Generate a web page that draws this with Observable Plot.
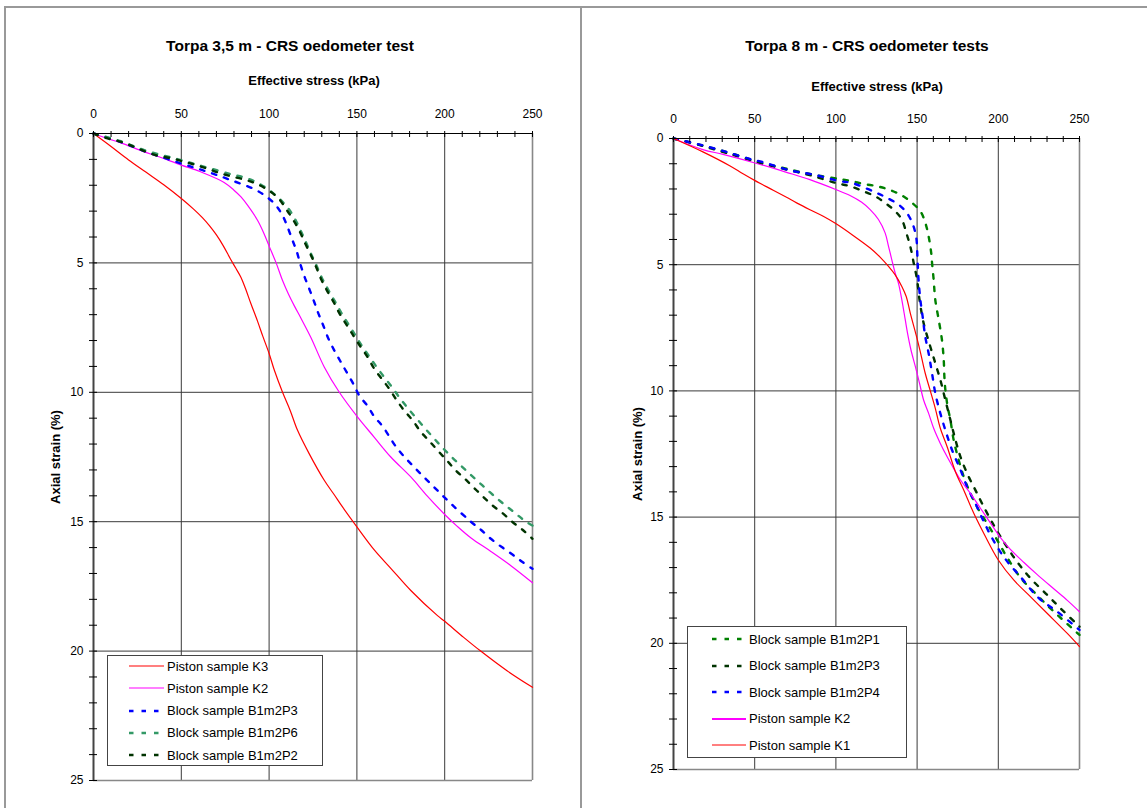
<!DOCTYPE html>
<html><head><meta charset="utf-8">
<script src="https://cdn.jsdelivr.net/npm/d3@7"></script>
<script src="https://cdn.jsdelivr.net/npm/@observablehq/plot@0.6"></script>
<style>
html,body{margin:0;padding:0;background:#fff;}
#page{position:relative;width:1147px;height:808px;overflow:hidden;background:#fff;font-family:"Liberation Sans",Arial,sans-serif;color:#000;}
.abs{position:absolute;}
.abs svg text{font-size:12px;}
.title{position:absolute;font-weight:bold;font-size:15.5px;line-height:15.5px;text-align:center;white-space:nowrap;}
.axt{position:absolute;font-weight:bold;font-size:13px;line-height:13px;text-align:center;white-space:nowrap;}
.ylab{position:absolute;font-weight:bold;font-size:13px;line-height:13px;white-space:nowrap;transform:translate(-50%,-50%) rotate(-90deg);}
.legend{position:absolute;background:#fff;border:1px solid #444;box-sizing:border-box;z-index:5;}
.legend .sw{position:absolute;}
.legend .tx{position:absolute;font-size:13px;line-height:13px;white-space:nowrap;}
.panel{position:absolute;border-color:#999;border-style:solid;}
</style></head><body><div id="page">
<div class="panel" style="left:4px;top:6px;width:574px;height:900px;border-width:2px 2px 0 2px;"></div>
<div class="panel" style="left:582px;top:6px;width:700px;height:900px;border-width:2px 0 0 0;"></div>
<div id="left" class="abs" style="left:0;top:0;width:580px;height:808px;"></div>
<div id="right" class="abs" style="left:580px;top:0;width:567px;height:808px;"></div>
<div class="title" style="left:90px;top:37.5px;width:400px;">Torpa 3,5 m - CRS oedometer test</div>
<div class="title" style="left:667px;top:37.5px;width:400px;">Torpa 8 m - CRS oedometer tests</div>
<div class="axt" style="left:214px;top:74px;width:200px;">Effective stress (kPa)</div>
<div class="axt" style="left:777px;top:79.5px;width:200px;">Effective stress (kPa)</div>
<div class="ylab" style="left:55px;top:456.5px;">Axial strain (%)</div>
<div class="ylab" style="left:637px;top:453.5px;">Axial strain (%)</div>
<div id="legL" class="legend" style="left:107px;top:655px;width:216px;height:111px;"></div>
<div id="legR" class="legend" style="left:687px;top:626px;width:220px;height:132px;"></div>
</div>
<script>
// ---------- axis ticks ----------
const stressTicks = [0, 50, 100, 150, 200, 250];
const strainTicks = [0, 5, 10, 15, 20, 25];
const stressGrid = [50, 100, 150, 200];
const strainGrid = [5, 10, 15, 20];
const stressMinor = d3.range(0, 251, 10);
const strainMinor = d3.range(0, 26, 1);

// ---------- Torpa 3,5 m : [effective stress kPa, axial strain %] ----------
const leftK3 = [[0,0],[10,0.5],[20,1.02],[30,1.5],[40,1.98],[50,2.51],[57,2.92],[62,3.25],[66,3.56],[70,3.92],[74,4.35],[78,4.85],[81,5.2],[84,5.56],[86.5,5.98],[89.5,6.55],[93.4,7.25],[96.5,7.85],[100,8.5],[103,9.15],[107.6,9.99],[112,10.7],[116.2,11.47],[122.8,12.37],[131.4,13.4],[137,13.95],[142,14.45],[150,15.2],[160,16.1],[169.3,16.8],[180.7,17.66],[195.9,18.63],[200,18.85],[210.8,19.47],[220.3,19.99],[235.5,20.76],[250,21.4]];
const leftK2 = [[0,0],[8,0.2],[15.6,0.36],[28.9,0.71],[36.4,0.88],[50,1.22],[61,1.48],[74.4,1.89],[80,2.19],[84,2.45],[87.7,2.77],[93.4,3.35],[97,3.85],[100.2,4.38],[104,5.0],[107.6,5.67],[111,6.2],[114.3,6.65],[118,7.12],[123.8,7.88],[131.4,9.02],[139.9,9.99],[150.3,10.95],[159.8,11.73],[169.3,12.5],[180.7,13.27],[190,14.0],[200,14.72],[207,15.17],[215,15.63],[226.3,16.15],[237.7,16.7],[250,17.36]];
const leftP3 = [[0,0],[15.2,0.32],[28.9,0.68],[50,1.16],[64.9,1.48],[78.2,1.8],[91.5,2.15],[98.1,2.42],[103.8,2.77],[107.6,3.16],[110.5,3.61],[113.3,4.12],[115.8,4.57],[117.7,5.03],[120,5.5],[122.8,5.99],[125.7,6.51],[128.1,6.96],[130.8,7.41],[133.8,7.93],[137.1,8.38],[140.5,8.79],[144.3,9.24],[148.4,9.73],[151.3,10.12],[156.2,10.54],[159.8,10.93],[164.6,11.31],[173.1,12.18],[182.6,12.89],[193,13.6],[203.5,14.3],[214.9,15.0],[220.6,15.31],[226.3,15.66],[232.5,15.98],[238.6,16.27],[244.3,16.56],[250,16.82]];
const leftP6 = [[0,0],[15.6,0.3],[28.9,0.64],[50,1.03],[64.5,1.31],[78.2,1.57],[85.8,1.7],[92.4,1.87],[99.5,2.16],[105.4,2.49],[110.5,2.86],[114.3,3.25],[117.7,3.71],[120.9,4.19],[123.8,4.64],[127,5.1],[130,5.57],[133.6,6.03],[137.4,6.48],[140.8,6.89],[144.6,7.31],[148.8,7.76],[152.6,8.18],[157,8.61],[161.2,9.02],[165.5,9.41],[169.9,9.79],[174.4,10.22],[179.2,10.63],[184.1,11.02],[188.9,11.4],[194,11.79],[199.3,12.18],[204.4,12.53],[210.1,12.89],[215.8,13.25],[221.5,13.6],[227.2,13.95],[233.3,14.3],[239.6,14.64],[245.3,14.95],[250,15.15]];
const leftP2 = [[0,0],[8,0.19],[15.6,0.32],[22.2,0.49],[28.9,0.68],[35.5,0.84],[43.1,0.94],[50,1.06],[57.3,1.2],[64.5,1.35],[71.6,1.52],[78.2,1.65],[85.8,1.78],[92.4,1.93],[99.5,2.19],[105.4,2.51],[109.5,2.9],[113.3,3.29],[117.1,3.74],[120.4,4.23],[123.5,4.66],[126.6,5.13],[129.5,5.61],[132.9,6.06],[136.7,6.51],[139.9,6.93],[143.7,7.35],[147.9,7.8],[151.9,8.22],[156,8.63],[159.8,9.08],[164,9.47],[168.4,9.86],[172.7,10.31],[176.9,10.7],[181.7,11.08],[186.4,11.53],[191.2,11.88],[195.9,12.24],[201.2,12.63],[206.3,13.02],[211.5,13.34],[216.8,13.7],[222.1,14.05],[227.2,14.37],[233.3,14.69],[238.6,15.01],[244.3,15.31],[250,15.66]];

// ---------- Torpa 8 m ----------
const rightP1 = [[0,0],[18.1,0.28],[34.6,0.57],[53.1,0.94],[69.6,1.2],[86.1,1.43],[101.5,1.6],[109.7,1.69],[116.9,1.8],[125.2,1.89],[132.4,2.02],[139.6,2.22],[145.8,2.49],[152,2.88],[155.1,3.35],[157.1,3.88],[158.7,4.54],[159.2,4.93],[160.2,5.6],[161.2,6.39],[163.3,7.18],[165.3,7.98],[166.4,8.77],[166.8,9.43],[167.4,9.96],[168.8,10.62],[170.5,11.15],[172.5,11.94],[175.6,12.74],[178.7,13.4],[182.8,14.06],[188,14.72],[193.1,15.25],[199.3,15.91],[205,16.55],[213.7,17.4],[224,18.1],[234.3,18.75],[250,19.67]];
const rightP3 = [[0,0],[17.1,0.28],[32.5,0.57],[53.1,0.97],[69.6,1.23],[86.1,1.49],[99.9,1.76],[108.7,1.89],[116.9,2.09],[124.2,2.29],[130.3,2.55],[136.5,2.88],[140.6,3.21],[143.7,3.81],[145.8,4.27],[147.9,4.93],[150,5.6],[151.5,6.39],[154,7.31],[158.1,8.24],[161.2,8.9],[164.3,9.56],[167.4,10.36],[170.5,11.15],[173.6,11.94],[176.7,12.61],[180.8,13.27],[185.9,13.93],[190,14.46],[197,15.3],[204,16.05],[211.7,16.78],[219.9,17.43],[230.2,18.09],[238.4,18.62],[250,19.34]];
const rightP4 = [[0,0],[16.1,0.24],[32.5,0.53],[46.9,0.81],[55.2,0.94],[71.6,1.26],[86.1,1.43],[102.5,1.69],[109.7,1.76],[118,1.96],[125.2,2.16],[131.4,2.35],[138.6,2.62],[143.7,2.95],[147.4,3.41],[149.5,3.94],[150.1,4.54],[150.4,5.0],[150.9,5.6],[152,6.39],[153.4,7.05],[155,7.84],[157.1,8.51],[159.2,9.3],[161.2,10.09],[164.3,10.89],[167.4,11.55],[171.5,12.34],[176.7,13.13],[180.8,13.8],[185.9,14.46],[190.5,15.1],[195.5,15.75],[203.4,16.58],[213.7,17.37],[225.1,18.22],[236.4,18.75],[250,19.47]];
const rightK2 = [[0,0],[18.1,0.44],[30.5,0.63],[50.2,0.97],[69.6,1.34],[84,1.63],[99.9,2.02],[108.7,2.26],[115.9,2.53],[121.1,2.82],[126.2,3.21],[130.3,3.74],[132.4,4.27],[134.4,4.8],[136.5,5.33],[138.5,5.73],[140.6,6.39],[142.7,7.18],[144.1,7.71],[146.2,8.37],[148.9,9.03],[151.5,9.7],[154,10.36],[157.1,10.89],[160.2,11.48],[164.3,12.08],[168.5,12.61],[172.5,13.07],[176.7,13.53],[182.8,14.06],[189,14.65],[195,15.22],[201,15.78],[207,16.25],[215.8,16.8],[224,17.28],[234.3,17.85],[242.5,18.3],[250,18.75]];
const rightK1 = [[0,0],[18.1,0.53],[34.6,1.08],[42.8,1.4],[50.2,1.67],[61.4,2.05],[69.6,2.33],[75.8,2.55],[84,2.82],[92.2,3.08],[99.9,3.37],[110.8,3.85],[121.1,4.34],[127.2,4.7],[132.4,5.07],[136.5,5.4],[140.6,5.86],[143.3,6.26],[145.8,6.92],[149.9,7.91],[152.4,8.57],[155,9.3],[158.1,9.99],[161.2,10.69],[164.3,11.48],[168.5,12.21],[173.6,13.2],[178.7,13.93],[182.5,14.5],[186,15.0],[191.5,15.7],[200,16.7],[209.6,17.5],[219.9,18.16],[230.2,18.82],[242.5,19.61],[250,20.13]];

// ---------- series styling ----------
const leftNames = ["Piston sample K3", "Piston sample K2", "Block sample B1m2P3", "Block sample B1m2P6", "Block sample B1m2P2"];
const leftColors = ["#ff0000", "#ff00ff", "#0000ff", "#339966", "#003300"];
const leftData = [leftK3, leftK2, leftP3, leftP6, leftP2];
const leftDashed = [false, false, true, true, true];

const rightNames = ["Block sample B1m2P1", "Block sample B1m2P3", "Block sample B1m2P4", "Piston sample K2", "Piston sample K1"];
const rightColors = ["#008000", "#003300", "#0000ff", "#ff00ff", "#ff0000"];
const rightData = [rightP1, rightP3, rightP4, rightK2, rightK1];
const rightDashed = [true, true, true, false, false];

const DASH = "4.5,8";

function lineMarks(data, colors, dashed) {
  return data.map((d, i) => Plot.line(d, {
    x: p => p[0], y: p => p[1],
    stroke: colors[i],
    strokeWidth: dashed[i] ? 2.4 : 1.2,
    strokeDasharray: dashed[i] ? DASH : null,
    curve: "catmull-rom"
  }));
}

function chart(opts, lines) {
  return Plot.plot({
    width: opts.w, height: opts.h,
    marginLeft: opts.ml, marginRight: opts.mr, marginTop: opts.mt, marginBottom: opts.mb,
    style: {background: "none", fontFamily: "Liberation Sans, Arial, sans-serif", fontSize: "12px", color: "#000", overflow: "visible"},
    x: {domain: [0, 250]},
    y: {domain: [0, 25], reverse: true},
    marks: [
      Plot.ruleX(stressGrid, {stroke: "#3a3a3a", strokeWidth: 1}),
      Plot.ruleY(strainGrid, {stroke: "#3a3a3a", strokeWidth: 1}),
      Plot.ruleX([250], {stroke: "#888", strokeWidth: 1.6}),
      Plot.ruleY([25], {stroke: "#888", strokeWidth: 1.6}),
      ...lines,
      Plot.ruleX([0], {stroke: "#444", strokeWidth: 2}),
      Plot.ruleY([0], {stroke: "#000", strokeWidth: 1}),
      Plot.axisX({anchor: "top", ticks: stressMinor, tickSize: 6, dy: 3, tickFormat: () => "", label: null}),
      Plot.axisY({anchor: "left", ticks: strainMinor, tickSize: 8, dx: 4, tickFormat: () => "", label: null}),
      Plot.axisX({anchor: "top", ticks: stressTicks, tickSize: 0, tickPadding: 15.5, label: null, fontSize: 12}),
      Plot.axisY({anchor: "left", ticks: strainTicks, tickSize: 0, tickPadding: 10, label: null, fontSize: 12})
    ]
  });
}

document.getElementById("left").append(chart({w: 580, h: 808, ml: 93, mr: 48, mt: 133, mb: 28}, lineMarks(leftData, leftColors, leftDashed)));
document.getElementById("right").append(chart({w: 567, h: 808, ml: 93, mr: 68, mt: 138, mb: 39}, lineMarks(rightData, rightColors, rightDashed)));

function legend(el, names, colors, dashed, cfg) {
  names.forEach((name, i) => {
    const cy = cfg.first + i * cfg.step;
    const sw = document.createElementNS("http://www.w3.org/2000/svg", "svg");
    sw.setAttribute("class", "sw");
    sw.setAttribute("width", cfg.swW);
    sw.setAttribute("height", 6);
    sw.style.left = cfg.swX + "px";
    sw.style.top = (cy - 3) + "px";
    const ln = document.createElementNS("http://www.w3.org/2000/svg", "line");
    ln.setAttribute("x1", 0); ln.setAttribute("x2", cfg.swW);
    ln.setAttribute("y1", 3); ln.setAttribute("y2", 3);
    ln.setAttribute("stroke", colors[i]);
    ln.setAttribute("stroke-width", dashed[i] ? 2.6 : (cfg.solidW ? cfg.solidW[i] : 1.2));
    if (dashed[i]) ln.setAttribute("stroke-dasharray", DASH);
    sw.appendChild(ln);
    el.appendChild(sw);
    const t = document.createElement("div");
    t.className = "tx";
    t.textContent = name;
    t.style.left = cfg.txX + "px";
    t.style.top = (cy - 6.5) + "px";
    el.appendChild(t);
  });
}
legend(document.getElementById("legL"), leftNames, leftColors, leftDashed, {first: 10, step: 22.3, swX: 21, swW: 35, txX: 59});
legend(document.getElementById("legR"), rightNames, rightColors, rightDashed, {first: 12, step: 26.5, swX: 24, swW: 34, txX: 61, solidW: [1, 1, 1, 2, 1]});
</script>
</body></html>
